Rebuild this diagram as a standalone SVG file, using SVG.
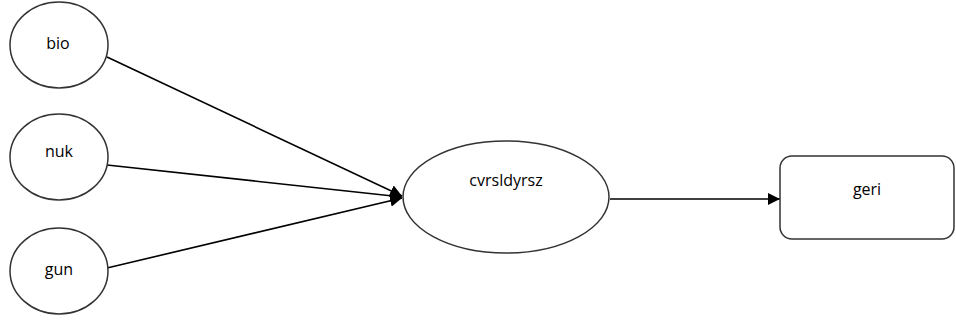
<svg xmlns="http://www.w3.org/2000/svg" width="956" height="322" viewBox="0 0 956 322">
  <style>
    .node { fill: #ffffff; stroke: #333333; stroke-width: 1.5; }
    .label { font-family: "Open Sans", "Liberation Sans", sans-serif; font-size: 16px; fill: #000000; text-anchor: middle; }
    .edge { stroke: #000000; stroke-width: 1.6; fill: none; marker-end: url(#arrow); }
  </style>
  <defs>
    <marker id="arrow" viewBox="0 0 10 10" refX="10" refY="5" markerWidth="12" markerHeight="12" markerUnits="userSpaceOnUse" orient="auto">
      <path d="M0,0 L10,5 L0,10 z" fill="#000000"/>
    </marker>
  </defs>
  <rect width="956" height="322" fill="#ffffff"/>

  <g id="connectors">
    <line class="edge" x1="107" y1="57" x2="402" y2="196"/>
    <line class="edge" x1="107" y1="165" x2="402" y2="197"/>
    <line class="edge" x1="107" y1="268" x2="402" y2="198"/>
    <line class="edge" x1="610" y1="199" x2="780" y2="199"/>
  </g>

  <g id="bio">
    <ellipse class="node" cx="59" cy="45" rx="49" ry="43"/>
    <text class="label" x="58" y="49">bio</text>
  </g>
  <g id="nuk">
    <ellipse class="node" cx="59" cy="157" rx="49" ry="43"/>
    <text class="label" x="59" y="157">nuk</text>
  </g>
  <g id="gun">
    <ellipse class="node" cx="59" cy="271" rx="49" ry="43"/>
    <text class="label" x="59" y="275">gun</text>
  </g>
  <g id="cvrsldyrsz">
    <ellipse class="node" cx="506" cy="197" rx="103" ry="56"/>
    <text class="label" x="506" y="186">cvrsldyrsz</text>
  </g>
  <g id="geri">
    <rect class="node" x="780" y="156" width="174" height="83" rx="12" ry="12"/>
    <text class="label" x="867" y="195">geri</text>
  </g>
</svg>
